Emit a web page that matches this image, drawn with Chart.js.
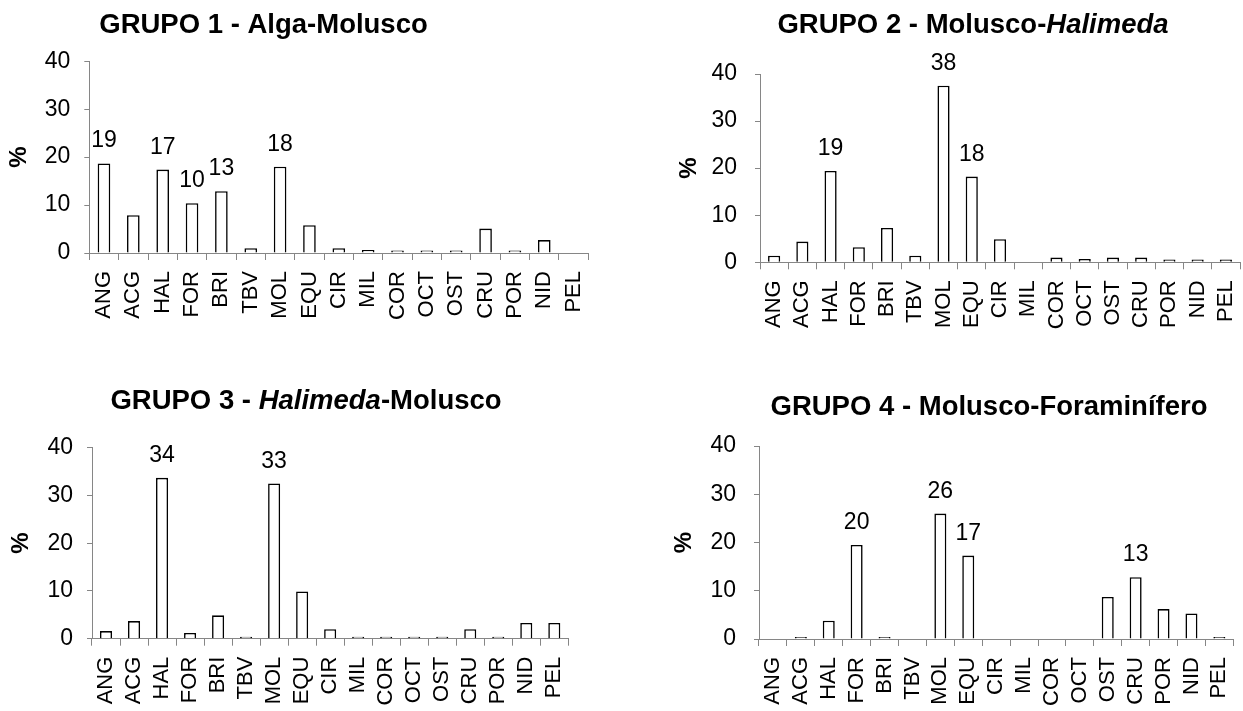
<!DOCTYPE html>
<html>
<head>
<meta charset="utf-8">
<script src="https://cdn.jsdelivr.net/npm/chart.js@4.4.0/dist/chart.umd.min.js"></script>
<style>
  html, body { margin: 0; padding: 0; background: #fff; overflow: hidden; width: 1243px; height: 711px; }
  canvas { position: absolute; }
</style>
</head>
<body>
<canvas id="c1"></canvas>
<canvas id="c2"></canvas>
<canvas id="c3"></canvas>
<canvas id="c4"></canvas>
<script>
// ---------- data ----------
const categories = ['ANG','ACG','HAL','FOR','BRI','TBV','MOL','EQU','CIR','MIL','COR','OCT','OST','CRU','POR','NID','PEL'];
const grupo1 = [18.7, 7.9, 17.4, 10.4, 12.9, 1.0, 18.0, 5.8, 1.0, 0.6, 0.5, 0.5, 0.5, 5.1, 0.5, 2.7, 0];
const grupo2 = [1.4, 4.4, 19.4, 3.2, 7.3, 1.4, 37.5, 18.2, 4.9, 0, 1.0, 0.7, 1.0, 1.0, 0.6, 0.6, 0.6];
const grupo3 = [1.6, 3.7, 33.7, 1.2, 4.9, 0.4, 32.5, 9.9, 2.0, 0.4, 0.4, 0.4, 0.4, 2.0, 0.4, 3.3, 3.3];
const grupo4 = [0, 0.4, 3.8, 19.5, 0.4, 0, 26.0, 17.3, 0, 0, 0, 0, 8.7, 12.8, 6.2, 5.3, 0.4];
const yTicks = [0, 10, 20, 30, 40];
const labelMin = 10;
const axisTitle = '%';
// title segments: [text, italic]
const title1 = [['GRUPO 1 - Alga-Molusco', false]];
const title2 = [['GRUPO 2 - Molusco-', false], ['Halimeda', true]];
const title3 = [['GRUPO 3 - ', false], ['Halimeda', true], ['-Molusco', false]];
const title4 = [['GRUPO 4 - Molusco-Foraminífero', false]];

// ---------- layout (page coordinates) ----------
const FONT = '"Liberation Sans", Arial, sans-serif';
const AXIS = '#868686';
const panels = [
  { id: 'c1', data: grupo1, title: title1, canvas: {x: 0,   y: 0,   w: 640, h: 360},
    area: {l: 89.3, r: 588.3, t: 61.3, b: 253}, titleX: 263.5, titleY: 33, pctX: 19, yPad: 14 },
  { id: 'c2', data: grupo2, title: title2, canvas: {x: 640, y: 0,   w: 640, h: 360},
    area: {l: 760, r: 1240, t: 74, b: 262.3}, titleX: 973, titleY: 33, pctX: 689, yPad: 18 },
  { id: 'c3', data: grupo3, title: title3, canvas: {x: 0,   y: 360, w: 640, h: 351},
    area: {l: 92, r: 568.3, t: 447.7, b: 638.7}, titleX: 306, titleY: 409, pctX: 21, yPad: 14 },
  { id: 'c4', data: grupo4, title: title4, canvas: {x: 640, y: 360, w: 640, h: 351},
    area: {l: 759, r: 1233.3, t: 446, b: 639}, titleX: 989, titleY: 415, pctX: 684, yPad: 18 }
];

const overlay = {
  id: 'overlay',
  afterDatasetsDraw(chart, args, o) {
    const ctx = chart.ctx;
    const ds = chart.data.datasets[0].data;
    const meta = chart.getDatasetMeta(0);
    ctx.save();
    ctx.fillStyle = '#000';
    // value labels
    ctx.font = '23px ' + FONT;
    ctx.textAlign = 'center';
    ctx.textBaseline = 'alphabetic';
    meta.data.forEach((bar, i) => {
      const v = ds[i];
      if (v >= labelMin) ctx.fillText(String(Math.round(v)), bar.x, bar.y - 16);
    });
    // title
    const segs = o.title;
    let total = 0;
    const widths = segs.map(s => {
      ctx.font = (s[1] ? 'italic ' : '') + 'bold 27.5px ' + FONT;
      const w = ctx.measureText(s[0]).width; total += w; return w;
    });
    let x = o.titleX - total / 2;
    ctx.textAlign = 'left';
    segs.forEach((s, i) => {
      ctx.font = (s[1] ? 'italic ' : '') + 'bold 27.5px ' + FONT;
      ctx.fillText(s[0], x, o.titleY);
      x += widths[i];
    });
    // axis title
    const ca = chart.chartArea;
    ctx.translate(o.pctX, (ca.top + ca.bottom) / 2);
    ctx.rotate(-Math.PI / 2);
    ctx.font = 'bold 24px ' + FONT;
    ctx.textAlign = 'center';
    ctx.textBaseline = 'middle';
    ctx.fillText(axisTitle, 0, 0);
    ctx.restore();
  }
};

panels.forEach(p => {
  const cv = document.getElementById(p.id);
  cv.width = p.canvas.w; cv.height = p.canvas.h;
  cv.style.left = p.canvas.x + 'px'; cv.style.top = p.canvas.y + 'px';
  const yW = p.area.l - p.canvas.x;
  const xH = p.canvas.y + p.canvas.h - p.area.b;
  new Chart(cv, {
    type: 'bar',
    data: {
      labels: categories,
      datasets: [{
        data: p.data,
        backgroundColor: '#ffffff',
        borderColor: '#000000',
        borderWidth: 1.6,
        barPercentage: 0.43,
        categoryPercentage: 1.0
      }]
    },
    options: {
      responsive: false,
      animation: false,
      devicePixelRatio: 1,
      layout: { padding: { left: 0, bottom: 0, top: p.area.t - p.canvas.y, right: p.canvas.x + p.canvas.w - p.area.r } },
      plugins: {
        legend: { display: false },
        tooltip: { enabled: false },
        title: { display: false },
        overlay: {
          title: p.title,
          titleX: p.titleX - p.canvas.x,
          titleY: p.titleY - p.canvas.y,
          pctX: p.pctX - p.canvas.x
        }
      },
      scales: {
        x: {
          offset: true,
          grid: { display: true, drawOnChartArea: false, drawTicks: true, tickLength: 7, color: AXIS, lineWidth: 1, offset: true },
          border: { display: true, color: AXIS, width: 1 },
          ticks: { color: '#000', font: { family: FONT, size: 22 }, minRotation: 90, maxRotation: 90, autoSkip: false, padding: 11 },
          afterFit: s => { s.height = xH; }
        },
        y: {
          min: 0, max: 40,
          afterBuildTicks: s => { s.ticks = yTicks.map(v => ({ value: v })); },
          grid: { display: true, drawOnChartArea: false, drawTicks: true, tickLength: 5, color: AXIS, lineWidth: 1 },
          border: { display: true, color: AXIS, width: 1 },
          ticks: { color: '#000', font: { family: FONT, size: 23 }, padding: p.yPad },
          afterFit: s => { s.width = yW; }
        }
      }
    },
    plugins: [overlay]
  });
});
</script>
</body>
</html>
